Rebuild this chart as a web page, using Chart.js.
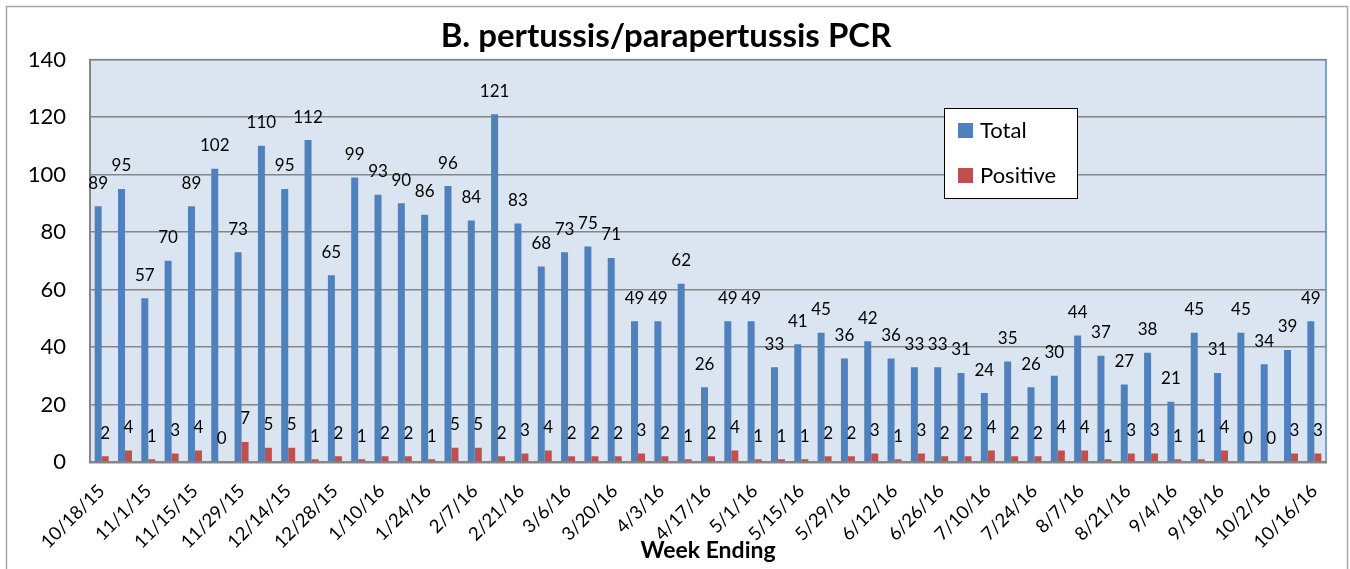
<!DOCTYPE html>
<html>
<head>
<meta charset="utf-8">
<script src="https://cdn.jsdelivr.net/npm/chart.js@4/dist/chart.umd.min.js"></script>
<style>
  html, body { margin: 0; padding: 0; background: #fff; }
  #wrap { width: 1350px; height: 569px; }
</style>
</head>
<body>
<div id="wrap"><canvas id="myChart"></canvas></div>
<script>
// week ending dates (only every other one is labelled on the axis)
const weeks = [
  "10/18/15", "10/25/15", "11/1/15", "11/8/15", "11/15/15", "11/22/15", "11/29/15",
  "12/6/15", "12/14/15", "12/21/15", "12/28/15", "1/3/16", "1/10/16", "1/17/16",
  "1/24/16", "1/31/16", "2/7/16", "2/14/16", "2/21/16", "2/28/16", "3/6/16",
  "3/13/16", "3/20/16", "3/27/16", "4/3/16", "4/10/16", "4/17/16", "4/24/16",
  "5/1/16", "5/8/16", "5/15/16", "5/22/16", "5/29/16", "6/5/16", "6/12/16",
  "6/19/16", "6/26/16", "7/3/16", "7/10/16", "7/17/16", "7/24/16", "7/31/16",
  "8/7/16", "8/14/16", "8/21/16", "8/28/16", "9/4/16", "9/11/16", "9/18/16",
  "9/25/16", "10/2/16", "10/9/16", "10/16/16"
];

const totalTests = [
  89, 95, 57, 70, 89, 102, 73, 110, 95, 112, 65, 99, 93, 90, 86, 96, 84, 121,
  83, 68, 73, 75, 71, 49, 49, 62, 26, 49, 49, 33, 41, 45, 36, 42, 36, 33, 33,
  31, 24, 35, 26, 30, 44, 37, 27, 38, 21, 45, 31, 45, 34, 39, 49
];

const positiveTests = [
  2, 4, 1, 3, 4, 0, 7, 5, 5, 1, 2, 1, 2, 2, 1, 5, 5, 2, 3, 4, 2, 2, 2, 3, 2, 1,
  2, 4, 1, 1, 1, 2, 2, 3, 1, 3, 2, 2, 4, 2, 2, 4, 4, 1, 3, 3, 1, 1, 4, 0, 0, 3, 3
];

const yTicks = [0, 20, 40, 60, 80, 100, 120, 140];

const FONT = "Lato, 'Open Sans', sans-serif";

// plot background, outline and the outer frame
const backdrop = {
  id: "backdrop",
  beforeDraw(chart) {
    const { ctx, chartArea: a } = chart;
    ctx.save();
    ctx.strokeStyle = "#a6a6a6";
    ctx.lineWidth = 1.5;
    ctx.strokeRect(6.5, 6.5, 1341, 600);
    ctx.fillStyle = "#dbe5f1";
    ctx.fillRect(a.left, a.top, a.right - a.left, a.bottom - a.top);
    ctx.strokeStyle = "#5b84bf";
    ctx.lineWidth = 1.5;
    ctx.strokeRect(a.left, a.top, a.right - a.left, a.bottom - a.top);
    ctx.restore();
  }
};

// value above each bar
const valueLabels = {
  id: "valueLabels",
  afterDatasetsDraw(chart) {
    const ctx = chart.ctx;
    ctx.save();
    ctx.font = "17px " + FONT;
    ctx.fillStyle = "#000";
    ctx.textAlign = "center";
    ctx.textBaseline = "middle";
    chart.data.datasets.forEach((ds, i) => {
      chart.getDatasetMeta(i).data.forEach((bar, j) => {
        ctx.fillText(String(ds.data[j]), bar.x, bar.y - 23);
      });
    });
    ctx.restore();
  }
};

// boxed legend sitting inside the plot
const boxLegend = {
  id: "boxLegend",
  afterDraw(chart) {
    const ctx = chart.ctx;
    const x = 944, y = 108, w = 133, h = 90;
    ctx.save();
    ctx.fillStyle = "#fff";
    ctx.fillRect(x, y, w, h);
    ctx.strokeStyle = "#000";
    ctx.lineWidth = 1;
    ctx.strokeRect(x + 0.5, y + 0.5, w, h);
    ctx.font = "22px " + FONT;
    ctx.textBaseline = "middle";
    chart.data.datasets.forEach((ds, i) => {
      const cy = y + 22 + i * 45;
      ctx.fillStyle = ds.backgroundColor;
      ctx.fillRect(x + 14, cy - 7, 15, 15);
      ctx.fillStyle = "#000";
      ctx.fillText(ds.label, x + 36, cy + 1);
    });
    ctx.restore();
  }
};

const ctx = document.getElementById("myChart").getContext("2d");

new Chart(ctx, {
  type: "bar",
  data: {
    labels: weeks,
    datasets: [
      {
        label: "Total",
        data: totalTests,
        backgroundColor: "#4f81bd",
        categoryPercentage: 0.6,
        barPercentage: 1.0
      },
      {
        label: "Positive",
        data: positiveTests,
        backgroundColor: "#c0504d",
        categoryPercentage: 0.6,
        barPercentage: 1.0
      }
    ]
  },
  options: {
    responsive: true,
    maintainAspectRatio: false,
    animation: false,
    layout: { padding: { left: 6, right: 24, top: 0, bottom: 0 } },
    plugins: {
      legend: { display: false },
      tooltip: { enabled: false },
      title: {
        display: true,
        text: "B. pertussis/parapertussis PCR",
        color: "#000",
        font: { family: FONT, size: 33, weight: "bold" },
        padding: { top: 17, bottom: 3 }
      }
    },
    scales: {
      x: {
        grid: { display: false },
        border: { color: "#868686", width: 2.5 },
        ticks: {
          color: "#000",
          font: { family: FONT, size: 18.5 },
          autoSkip: false,
          maxRotation: 45,
          minRotation: 45,
          padding: 10,
          callback: function (val, index) {
            return index % 2 === 0 ? this.getLabelForValue(val) : "";
          }
        },
        title: {
          display: true,
          text: "Week Ending",
          color: "#000",
          font: { family: FONT, size: 23, weight: "bold" },
          padding: { top: 0, bottom: 5 }
        },
        afterFit(scale) { scale.height = 107; }
      },
      y: {
        min: 0,
        max: 140,
        afterBuildTicks(scale) { scale.ticks = yTicks.map(v => ({ value: v })); },
        grid: { color: "#868686", lineWidth: 1.5, drawTicks: false },
        border: { color: "#868686", width: 2 },
        ticks: {
          color: "#000",
          font: { family: FONT, size: 22 },
          padding: 24
        },
        afterFit(scale) { scale.width = 84; }
      }
    }
  },
  plugins: [backdrop, valueLabels, boxLegend]
});
</script>
</body>
</html>
